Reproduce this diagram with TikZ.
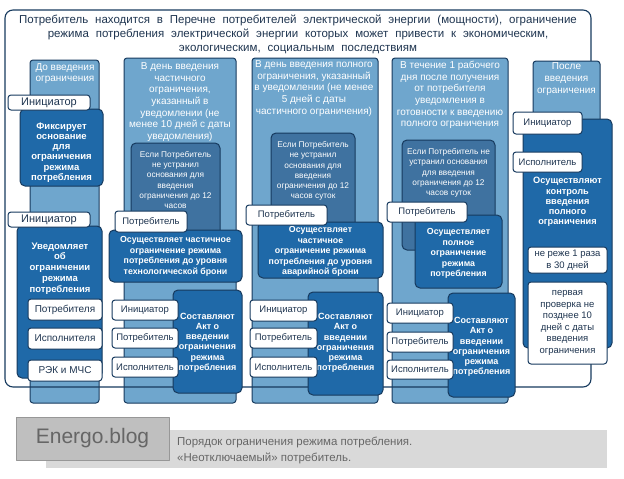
\documentclass[tikz,border=0pt]{standalone}
\usepackage{fontspec}
\setmainfont{Liberation Sans}
\newcommand{\myfs}[2]{\fontsize{#1}{#2}\selectfont}
\newcommand{\titlefont}{\myfs{11.5}{14}\spaceskip=0.6em\relax}
\definecolor{navy}{HTML}{173A5E}
\definecolor{lightb}{HTML}{6FA6CD}
\definecolor{darkb}{HTML}{1F69A8}
\definecolor{midb}{HTML}{3F72A0}
\definecolor{txt}{HTML}{1F3550}
\definecolor{stripc}{HTML}{D9D9D9}
\definecolor{logobox}{HTML}{BFBFBF}
\definecolor{logoline}{HTML}{979797}
\definecolor{greytxt}{HTML}{666666}
\begin{document}
\begin{tikzpicture}[x=1pt,y=-1pt, line join=round,
  lightbox/.style={draw=navy, fill=lightb, line width=1pt, rounded corners=3pt},
  darkbox/.style={draw=navy, fill=darkb, line width=1pt, rounded corners=5pt},
  midbox/.style={draw=navy, fill=midb, line width=1pt, rounded corners=5pt},
  lab/.style={draw=navy, fill=white, line width=1pt, rounded corners=3pt, text=txt, inner sep=0pt, font=\myfs{9.5}{11.5}, align=center},
  hdr/.style={text=white, align=center, inner sep=0pt, font=\myfs{10}{11.7}},
  midtxt/.style={text=white, align=center, inner sep=0pt, font=\myfs{8.3}{10.2}},
  darktxt/.style={text=white, align=center, inner sep=0pt, font=\bfseries\myfs{8.8}{10.6}},
  acttxt/.style={text=white, align=center, inner sep=0pt, font=\bfseries\myfs{9}{10.2}},
  frame/.style={navy, line width=1.1pt, rounded corners=8pt},
]
\useasboundingbox (0,0) rectangle (624,479);

% bottom caption
\path[fill=stripc] (46,430) rectangle (607,468);
\node[draw=logoline, fill=logobox, line width=0.8pt, minimum width=153pt, minimum height=43pt, inner sep=0pt, text=greytxt, font=\myfs{21}{24}] (logo) at (92.5,438.5) {Energo.blog};
\node[anchor=west, align=left, inner sep=0pt, text=greytxt, font=\myfs{11.5}{16}] (caption) at (177,450) {Порядок ограничения режима потребления.\\«Неотключаемый» потребитель.};

% outer frame
\path[frame, fill=white] (5,10) rectangle (591,387);
\node[align=center, inner sep=0pt, text=txt, font=\titlefont] (title) at (298,34) {Потребитель находится в Перечне потребителей электрической энергии (мощности), ограничение\\режима потребления электрической энергии которых может привести к экономическим,\\экологическим, социальным последствиям};

% column backgrounds
\path[lightbox] (30,60) rectangle (99,403);
\path[lightbox] (124,58) rectangle (236,403);
\path[lightbox] (252,58) rectangle (378,403);
\path[lightbox] (392,58) rectangle (508,403);
\draw[frame] (5,10) rectangle (591,387);

% column 1
\node[hdr] (h1) at (65,73.5) {До введения\\ограничения};
\path[darkbox] (20,109) rectangle (103,186);
\node[darktxt, font=\bfseries\myfs{9.5}{10.2}] (d1a) at (61.5,152.5) {Фиксирует\\основание\\для\\ограничения\\режима\\потребления};
\node[lab, minimum width=82pt, minimum height=15pt, font=\myfs{11}{12}] (l1a) at (49,102.5) {Инициатор};
\path[darkbox] (17,226) rectangle (102,378);
\node[darktxt, font=\bfseries\myfs{9.5}{10.8}] (d1b) at (60,268.5) {Уведомляет\\об\\ограничении\\режима\\потребления};
\node[lab, minimum width=82pt, minimum height=15pt, font=\myfs{11}{12}] (l1b) at (49,219.5) {Инициатор};
\node[lab, minimum width=74pt, minimum height=21pt, font=\myfs{10}{12}] (l1c) at (65,309.5) {Потребителя};
\node[lab, minimum width=74pt, minimum height=21pt, font=\myfs{10}{12}] (l1d) at (65,338.5) {Исполнителя};
\node[lab, minimum width=74pt, minimum height=21pt, font=\myfs{10}{12}] (l1e) at (65,370.5) {РЭК и МЧС};

% column 2
\node[hdr] (h2) at (180,102) {В день введения\\частичного\\ограничения,\\указанный в\\уведомлении (не\\менее 10 дней с даты\\уведомления)};
\path[midbox] (131,143) rectangle (220,236);
\node[midtxt] (m2) at (175.5,180) {Если Потребитель\\не устранил\\основания для\\введения\\ограничения до 12\\часов};
\path[darkbox] (109,230) rectangle (242,282);
\node[darktxt] (d2) at (175.5,256.5) {Осуществляет частичное\\ограничение режима\\потребления до уровня\\технологической брони};
\node[lab, minimum width=72pt, minimum height=21pt] (l2a) at (151,221.5) {Потребитель};
\path[darkbox] (173,290) rectangle (242,393);
\node[acttxt] (a2) at (207.5,342.5) {Составляют\\Акт о\\введении\\ограничения\\режима\\потребления};
\node[lab, minimum width=66pt, minimum height=20pt] (l2b) at (145,310) {Инициатор};
\node[lab, minimum width=66pt, minimum height=20pt] (l2c) at (145,338) {Потребитель};
\node[lab, minimum width=66pt, minimum height=20pt] (l2d) at (145,367) {Исполнитель};

% column 3
\node[hdr] (h3) at (314,88.5) {В день введения полного\\ограничения, указанный\\в уведомлении (не менее\\5 дней с даты\\частичного ограничения)};
\path[midbox] (271,133) rectangle (355,230);
\node[midtxt] (m3) at (313,171) {Если Потребитель\\не устранил\\основания для\\введения\\ограничения до 12\\часов суток};
\path[darkbox] (258,222) rectangle (383,278);
\node[darktxt] (d3) at (320.5,251.5) {Осуществляет\\частичное\\ограничение режима\\потребления до уровня\\аварийной брони};
\node[lab, minimum width=81pt, minimum height=20pt] (l3a) at (286.5,215) {Потребитель};
\path[darkbox] (308,292) rectangle (383,395);
\node[acttxt] (a3) at (345.5,343) {Составляют\\Акт о\\введении\\ограничения\\режима\\потребления};
\node[lab, minimum width=67pt, minimum height=21pt] (l3b) at (283.5,310.5) {Инициатор};
\node[lab, minimum width=67pt, minimum height=20pt] (l3c) at (283.5,338) {Потребитель};
\node[lab, minimum width=67pt, minimum height=20pt] (l3d) at (283.5,367) {Исполнитель};

% column 4
\node[hdr] (h4) at (450,95) {В течение 1 рабочего\\дня после получения\\от потребителя\\уведомления в\\готовности к введению\\полного ограничения};
\path[midbox] (402,140) rectangle (495,250);
\node[midtxt] (m4) at (448.5,173) {Если Потребитель не\\устранил основания\\для введения\\ограничения до 12\\часов суток};
\path[darkbox] (415,215) rectangle (502,288);
\node[darktxt] (d4) at (458.5,253.5) {Осуществляет\\полное\\ограничение\\режима\\потребления};
\node[lab, minimum width=80pt, minimum height=20pt] (l4a) at (427,212) {Потребитель};
\path[darkbox] (448,293) rectangle (515,397);
\node[acttxt] (a4) at (481.5,347) {Составляют\\Акт о\\введении\\ограничения\\режима\\потребления};
\node[lab, minimum width=66pt, minimum height=20pt] (l4b) at (420,313) {Инициатор};
\node[lab, minimum width=66pt, minimum height=20pt] (l4c) at (420,342) {Потребитель};
\node[lab, minimum width=66pt, minimum height=19pt] (l4d) at (420,369.5) {Исполнитель};

% column 5
\path[lightbox] (533,61) rectangle (600,125);
\node[hdr] (h5) at (566.5,79) {После\\введения\\ограничения};
\path[darkbox] (523,119) rectangle (612,348);
\node[darktxt, font=\bfseries\myfs{9.2}{10.2}] (d5) at (567.5,202) {Осуществляют\\контроль\\введения\\полного\\ограничения};
\node[lab, minimum width=69pt, minimum height=22pt] (l5a) at (547.5,123) {Инициатор};
\node[lab, minimum width=69pt, minimum height=20pt] (l5b) at (547.5,162) {Исполнитель};
\node[lab, minimum width=79pt, minimum height=26pt] (w5a) at (567.5,260) {не реже 1 раза\\в 30 дней};
\node[lab, minimum width=79pt, minimum height=82pt] (w5b) at (567.5,323) {первая\\проверка не\\позднее 10\\дней с даты\\введения\\ограничения};
\end{tikzpicture}
\end{document}
